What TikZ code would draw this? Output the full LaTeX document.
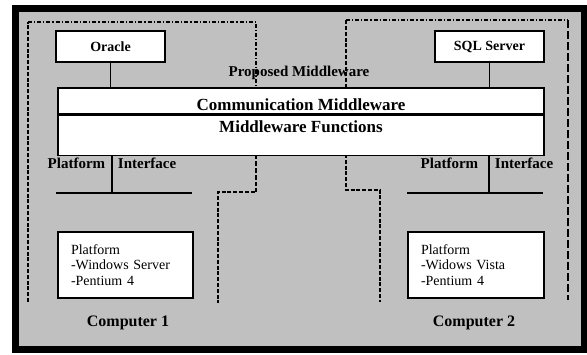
\documentclass[tikz,border=0pt]{standalone}
\usepackage{fontspec}
\setmainfont{Liberation Serif}
\usepackage{xcolor}
\usepackage{tikz}
\usetikzlibrary{arrows,positioning,calc}
\definecolor{panelgray}{RGB}{192,192,192}

\begin{document}
\begin{tikzpicture}[x = 1pt, y = -1pt,
  box/.style = {draw, line width=1.3pt, fill=white, inner sep=0pt},
  label/.style = {font=\fontsize{15}{17}\selectfont\bfseries, inner sep=0pt},
  heavydash/.style = {line width=2pt, dash pattern=on 4pt off 1.8pt},
  thindash/.style = {line width=1.1pt, dash pattern=on 5pt off 2pt},
  dashdot/.style = {line width=1.1pt, dash pattern=on 4pt off 2pt on 1.2pt off 2pt},
  wire/.style = {line width=1.2pt}]
\useasboundingbox (0,0) rectangle (587,354);
\fill[white] (0,0) rectangle (587,354);
\fill[black] (12,5) rectangle (587,353);
\fill[panelgray] (19,12) rectangle (581,346);

% computer boundaries
\draw[heavydash] (28,302) -- (28,22);
\draw[dashdot] (28,22) -- (256,22) -- (256,88);
\draw[thindash] (256,154) -- (256,176);
\draw[heavydash] (256,176) -- (256,192) -- (218,192) -- (218,303);
\draw[heavydash] (346,88) -- (346,20);
\draw[dashdot] (346,20) -- (568,20);
\draw[thindash, dash pattern=on 8pt off 3pt] (568,20) -- (568,300);
\draw[heavydash] (346,154) -- (346,190) -- (380,190) -- (380,302);

\node[label] (prop) at (299,73) {Proposed Middleware};

\node[box, minimum width=109pt, minimum height=31pt, font=\fontsize{14}{16}\selectfont\bfseries] (oracle) at (110.5,46.5) {Oracle};
\node[box, minimum width=109pt, minimum height=31pt, font=\fontsize{14}{16}\selectfont\bfseries] (sql) at (489.5,46.5) {SQL Server};

\node[box, minimum width=486pt, text height=19pt, text depth=0pt, inner ysep=3.5pt, font=\fontsize{17}{19}\selectfont\bfseries] (comm) at (301,101) {Communication Middleware};
\node[box, minimum width=486pt, text height=14pt, text depth=19pt, inner ysep=3.5pt, font=\fontsize{17}{19}\selectfont\bfseries, anchor=north] (func) at (comm.south) {Middleware Functions};

\draw[wire] (oracle.south) -- (oracle.south |- comm.north);
\draw[wire] (sql.south) -- (sql.south |- comm.north);

% platform interfaces
\coordinate (bus1) at (112,193);
\coordinate (bus2) at (489,193);
\draw[wire] (func.south -| bus1) -- (bus1);
\draw[wire] (56,193) -- (192,193);
\draw[wire] (func.south -| bus2) -- (bus2);
\draw[wire] (407,193) -- (543,193);
\node[label, fill=panelgray, inner xsep=0pt] (pi1) at (112,163) {Platform\hspace{9pt} Interface};
\node[label, fill=panelgray, inner xsep=0pt] (pi2) at (487,163) {Platform\hspace{13pt} Interface};
\draw[wire] (pi1.north) -- (pi1.south);
\draw[wire] (pi2.north -| bus2) -- (pi2.south -| bus2);

\node[box, minimum width=135pt, minimum height=66pt, text width=109pt, inner xsep=13pt, align=left, font=\fontsize{14}{15.5}\selectfont] (plat1) at (125.5,265) {Platform\\-Windows Server\\-Pentium 4};
\node[box, minimum width=136pt, minimum height=66pt, text width=110pt, inner xsep=13pt, align=left, font=\fontsize{14}{15.5}\selectfont] (plat2) at (476,265) {Platform\\-Widows Vista\\-Pentium 4};

\node[label, font=\fontsize{16}{18}\selectfont\bfseries] (comp1) at (128,323) {Computer 1};
\node[label, font=\fontsize{16}{18}\selectfont\bfseries] (comp2) at (474,323) {Computer 2};

\end{tikzpicture}
\end{document}
